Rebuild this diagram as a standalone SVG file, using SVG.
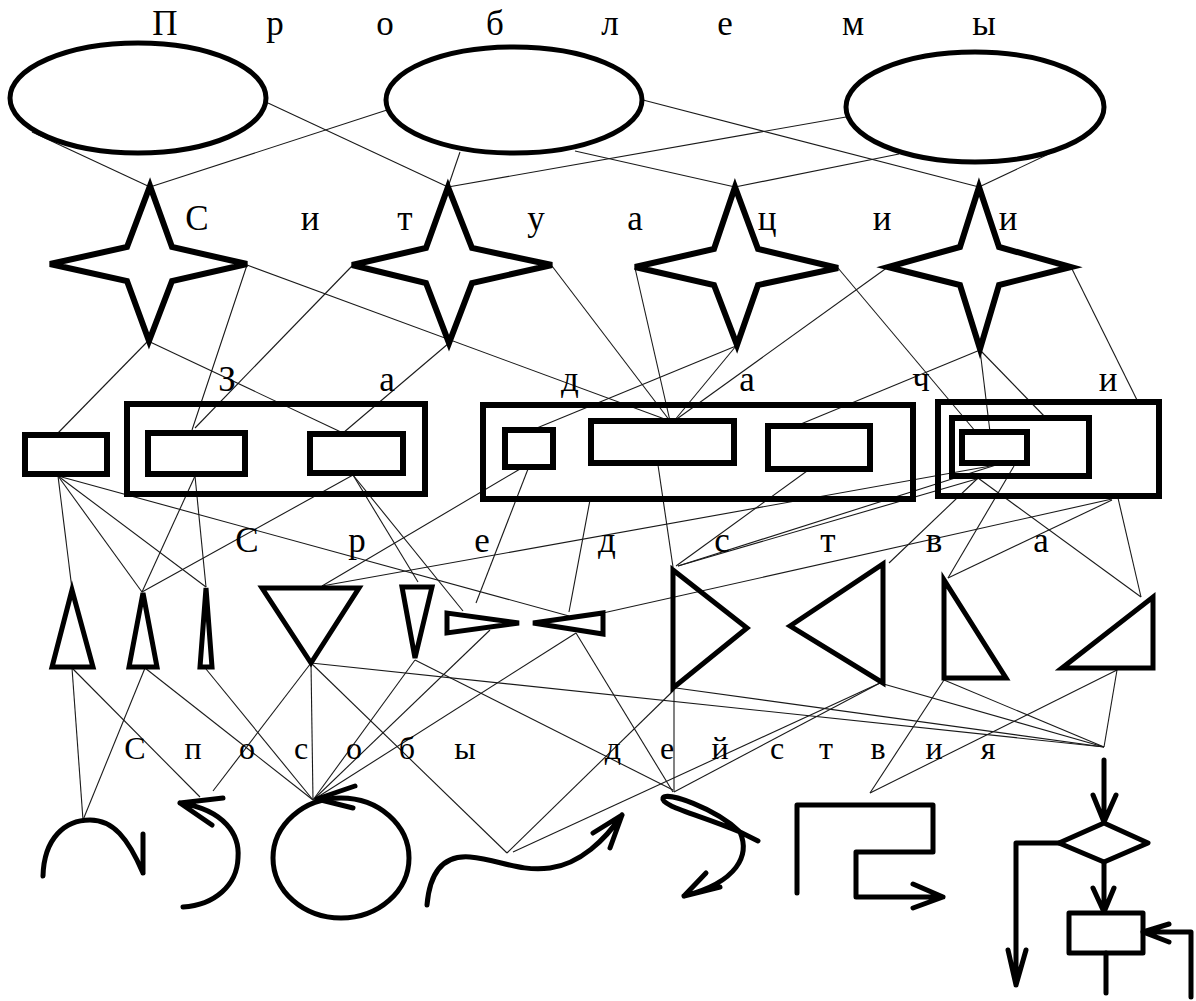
<svg xmlns="http://www.w3.org/2000/svg" width="1196" height="1001" viewBox="0 0 1196 1001">
<style>
.bg{fill:#fff}
.th{fill:none;stroke:#000;stroke-width:6;stroke-linejoin:miter}
.tr{fill:none;stroke:#000;stroke-width:5;stroke-linejoin:miter}
.cv{fill:none;stroke:#000;stroke-width:5;stroke-linecap:round;stroke-linejoin:round}
.cn line{stroke:#1a1a1a;stroke-width:1.1}
.lbl text{font-family:'Liberation Serif','DejaVu Serif',serif;font-size:35px;fill:#000;text-anchor:middle}
.lbl.small text{font-size:32px}
</style>
<rect class="bg" x="0" y="0" width="1196" height="1001"/>

<g id="connectors" class="cn">
<line x1="32" y1="132" x2="150" y2="187"/>
<line x1="387" y1="110" x2="150" y2="187"/>
<line x1="268" y1="103" x2="448" y2="187"/>
<line x1="460" y1="152" x2="448" y2="187"/>
<line x1="846" y1="117" x2="448" y2="187"/>
<line x1="575" y1="151" x2="735" y2="187"/>
<line x1="899" y1="154" x2="735" y2="187"/>
<line x1="643" y1="100" x2="979" y2="187"/>
<line x1="1053" y1="152" x2="979" y2="187"/>

<line x1="148" y1="341" x2="57" y2="434"/>
<line x1="148" y1="341" x2="343" y2="433"/>
<line x1="247" y1="265" x2="192" y2="430"/>
<line x1="352" y1="266" x2="195" y2="428"/>
<line x1="247" y1="265" x2="670" y2="421"/>
<line x1="449" y1="343" x2="343" y2="433"/>
<line x1="552" y1="266" x2="670" y2="421"/>
<line x1="635" y1="268" x2="670" y2="421"/>
<line x1="736" y1="346" x2="674" y2="421"/>
<line x1="736" y1="346" x2="532" y2="430"/>
<line x1="888" y1="267" x2="674" y2="421"/>
<line x1="838" y1="268" x2="976" y2="432"/>
<line x1="980" y1="350" x2="796" y2="426"/>
<line x1="980" y1="350" x2="990" y2="432"/>
<line x1="980" y1="350" x2="1046" y2="418"/>
<line x1="1071" y1="267" x2="1138" y2="402"/>

<line x1="58" y1="476" x2="72" y2="589"/>
<line x1="58" y1="476" x2="142" y2="592"/>
<line x1="58" y1="476" x2="206" y2="587"/>
<line x1="58" y1="476" x2="569" y2="616"/>
<line x1="195" y1="476" x2="142" y2="592"/>
<line x1="195" y1="476" x2="206" y2="587"/>
<line x1="353" y1="475" x2="142" y2="592"/>
<line x1="353" y1="475" x2="418" y2="582"/>
<line x1="353" y1="475" x2="463" y2="611"/>
<line x1="520" y1="469" x2="322" y2="586"/>
<line x1="528" y1="469" x2="476" y2="603"/>
<line x1="590" y1="500" x2="569" y2="612"/>
<line x1="322" y1="586" x2="996" y2="465"/>
<line x1="603" y1="613" x2="1112" y2="499"/>
<line x1="658" y1="465" x2="673" y2="567"/>
<line x1="807" y1="471" x2="676" y2="566"/>
<line x1="678" y1="566" x2="996" y2="465"/>
<line x1="678" y1="566" x2="980" y2="478"/>
<line x1="978" y1="478" x2="1141" y2="597"/>
<line x1="1118" y1="498" x2="1141" y2="597"/>
<line x1="1112" y1="500" x2="948" y2="578"/>
<line x1="1014" y1="466" x2="948" y2="578"/>
<line x1="978" y1="478" x2="889" y2="563"/>

<line x1="72" y1="668" x2="83" y2="820"/>
<line x1="72" y1="668" x2="200" y2="797"/>
<line x1="145" y1="668" x2="83" y2="820"/>
<line x1="145" y1="668" x2="313" y2="800"/>
<line x1="206" y1="669" x2="313" y2="800"/>
<line x1="311" y1="663" x2="213" y2="791"/>
<line x1="311" y1="663" x2="313" y2="800"/>
<line x1="311" y1="663" x2="507" y2="853"/>
<line x1="311" y1="663" x2="1104" y2="747"/>
<line x1="415" y1="660" x2="313" y2="800"/>
<line x1="415" y1="660" x2="673" y2="790"/>
<line x1="490" y1="630" x2="313" y2="800"/>
<line x1="576" y1="633" x2="313" y2="800"/>
<line x1="576" y1="633" x2="673" y2="792"/>
<line x1="676" y1="688" x2="1104" y2="747"/>
<line x1="674" y1="690" x2="507" y2="853"/>
<line x1="674" y1="690" x2="674" y2="792"/>
<line x1="880" y1="683" x2="513" y2="852"/>
<line x1="880" y1="683" x2="674" y2="792"/>
<line x1="880" y1="683" x2="1104" y2="747"/>
<line x1="944" y1="680" x2="1104" y2="747"/>
<line x1="944" y1="680" x2="870" y2="793"/>
<line x1="1117" y1="670" x2="1104" y2="747"/>
<line x1="1117" y1="670" x2="870" y2="793"/>
</g>

<g id="label-problemy" class="lbl" font-family="'Liberation Serif', serif">
<text x="165" y="35">П</text><text x="275" y="35">р</text><text x="385" y="35">о</text><text x="495" y="35">б</text><text x="610" y="35">л</text><text x="725" y="35">е</text><text x="853" y="35">м</text><text x="984" y="35">ы</text>
</g>
<g id="label-situatsii" class="lbl" font-family="'Liberation Serif', serif">
<text x="197" y="230">С</text><text x="310" y="230">и</text><text x="405" y="230">т</text><text x="536" y="230">у</text><text x="635" y="230">а</text><text x="767" y="230">ц</text><text x="882" y="230">и</text><text x="1008" y="230">и</text>
</g>
<g id="label-zadachi" class="lbl" font-family="'Liberation Serif', serif">
<text x="227" y="391">З</text><text x="387" y="391">а</text><text x="570" y="391">д</text><text x="747" y="391">а</text><text x="921" y="391">ч</text><text x="1108" y="391">и</text>
</g>
<g id="label-sredstva" class="lbl" font-family="'Liberation Serif', serif">
<text x="247" y="552">С</text><text x="357" y="552">р</text><text x="482" y="552">е</text><text x="607" y="552">д</text><text x="722" y="552">с</text><text x="828" y="552">т</text><text x="934" y="552">в</text><text x="1041" y="552">а</text>
</g>
<g id="label-sposoby" class="lbl small" font-family="'Liberation Serif', serif">
<text x="135" y="759">С</text><text x="193" y="759">п</text><text x="247" y="759">о</text><text x="301" y="759">с</text><text x="354" y="759">о</text><text x="407" y="759">б</text><text x="465" y="759">ы</text><text x="613" y="759">д</text><text x="667" y="759">е</text><text x="720" y="759">й</text><text x="777" y="759">с</text><text x="826" y="759">т</text><text x="878" y="759">в</text><text x="934" y="759">и</text><text x="988" y="759">я</text>
</g>

<g id="problem-1"><ellipse class="tr" cx="138" cy="98" rx="128" ry="55"/></g>
<g id="problem-2"><ellipse class="tr" cx="514" cy="100" rx="128" ry="53"/></g>
<g id="problem-3"><ellipse class="tr" cx="975" cy="107" rx="129" ry="55"/></g>

<g id="situation-1"><polygon class="th" points="150,186 172,247 247,264 172,281 149,341 127,281 50,264 127,247"/></g>
<g id="situation-2"><polygon class="th" points="448,187 472,248 552,265 472,283 449,343 426,283 352,265 426,248"/></g>
<g id="situation-3"><polygon class="th" points="735,187 758,249 838,268 758,285 737,345 714,285 635,267 714,249"/></g>
<g id="situation-4"><polygon class="th" points="979,187 999,247 1071,267 999,285 980,349 960,285 888,267 960,247"/></g>

<g id="task-0"><rect class="th" x="25" y="435" width="82" height="39"/></g>
<g id="task-group-1">
<rect class="th" x="127" y="404" width="298" height="90"/>
<rect class="th" x="148" y="433" width="97" height="41"/>
<rect class="th" x="310" y="434" width="93" height="39"/>
</g>
<g id="task-group-2">
<rect class="th" x="483" y="405" width="430" height="94"/>
<rect class="th" x="505" y="430" width="48" height="37"/>
<rect class="th" x="591" y="421" width="143" height="42"/>
<rect class="th" x="768" y="426" width="102" height="43"/>
</g>
<g id="task-group-3">
<rect class="th" x="938" y="402" width="221" height="94"/>
<rect class="th" x="952" y="418" width="137" height="58"/>
<rect class="th" x="962" y="432" width="65" height="31"/>
</g>

<g id="means-1"><polygon class="tr" points="72,590 52,667 93,667"/></g>
<g id="means-2"><polygon class="tr" points="143,593 129,667 157,667"/></g>
<g id="means-3"><polygon class="tr" points="206,588 200,667 212,667"/></g>
<g id="means-4"><polygon class="tr" points="262,588 359,588 311,663"/></g>
<g id="means-5"><polygon class="tr" points="402,587 432,587 415,658"/></g>
<g id="means-6"><polygon class="tr" points="447,613 447,633 519,623"/></g>
<g id="means-7"><polygon class="tr" points="533,623 603,613 603,634"/></g>
<g id="means-8"><polygon class="tr" points="673,570 747,628 673,688"/></g>
<g id="means-9"><polygon class="tr" points="790,626 883,564 883,683"/></g>
<g id="means-10"><polygon class="tr" points="944,580 944,678 1006,678"/></g>
<g id="means-11"><polygon class="tr" points="1153,597 1153,668 1062,668"/></g>

<g id="way-1"><path class="cv" d="M43,876 C44,838 65,820 90,820 C113,820 128,838 143,873 M143,873 L143,834"/></g>
<g id="way-2"><path class="cv" d="M183,907 C215,905 237,885 238,858 C240,835 225,810 180,803 M180,803 L223,798 M180,803 L212,825"/></g>
<g id="way-3"><ellipse class="cv" cx="341" cy="858" rx="68" ry="60"/><path class="cv" d="M355,786 L317,799 L353,808"/></g>
<g id="way-4"><path class="cv" d="M427,905 C430,870 445,855 470,857 C500,860 520,872 550,868 C580,864 605,840 622,815 M622,815 L593,833 M622,815 L610,848"/></g>
<g id="way-5"><path class="cv" d="M758,841 L740,832 C700,815 660,806 663,798 C666,791 715,808 740,832 C750,855 738,882 684,896 M684,896 L720,887 M684,896 L706,873"/></g>
<g id="way-6"><path class="cv" d="M797,893 L797,805 L933,805 L933,852 L856,852 L856,897 L943,897 M913,884 L943,897 L913,908"/></g>
<g id="way-7">
<path class="cv" d="M1104,760 L1104,822 M1093,795 L1104,822 L1116,795"/>
<polygon class="cv" points="1104,823 1148,843 1104,862 1059,843"/>
<path class="cv" d="M1059,843 L1016,843 L1016,985 M1008,950 L1016,985 L1026,950"/>
<path class="cv" d="M1104,862 L1104,912 M1093,888 L1104,912 L1114,888"/>
<rect class="cv" x="1069" y="913" width="74" height="40"/>
<path class="cv" d="M1106,953 L1106,993"/>
<path class="cv" d="M1191,997 L1191,932 L1143,932 M1169,924 L1143,932 L1169,942"/>
</g>
</svg>
